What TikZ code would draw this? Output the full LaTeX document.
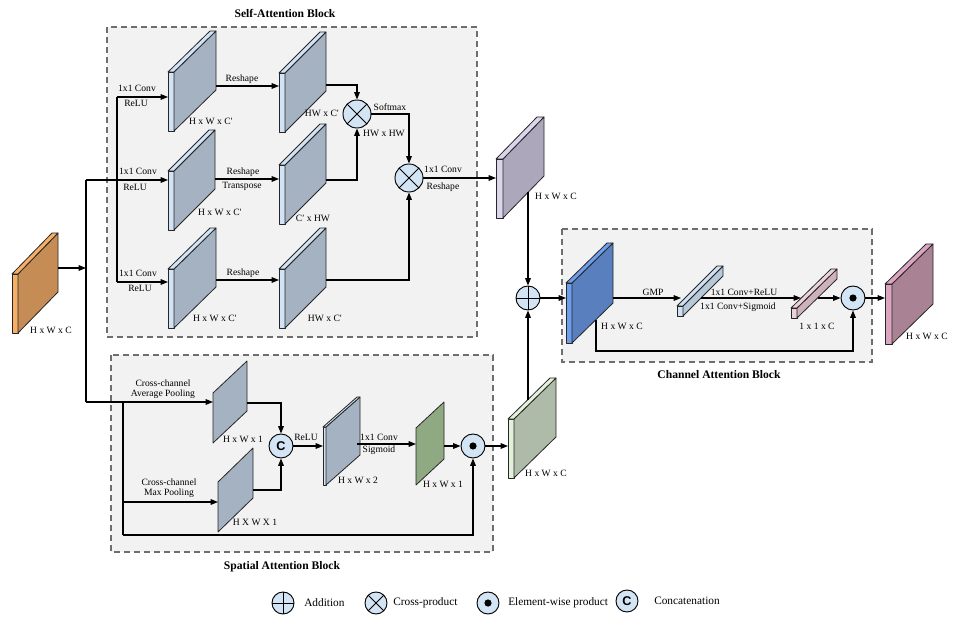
\documentclass[tikz,border=0pt]{standalone}
\usepackage{fontspec}
\setmainfont{Liberation Serif}
\newfontfamily\sansbold{Liberation Sans}
\usetikzlibrary{arrows.meta}
\definecolor{blockfill}{HTML}{F2F2F2}
\definecolor{blockline}{HTML}{6E6E6E}
\definecolor{opfill}{HTML}{D3E4F4}
\definecolor{lbfront}{HTML}{D1E3F4}
\definecolor{gbside}{HTML}{A4B2C1}
\definecolor{orfront}{HTML}{F7AE66}
\definecolor{orside}{HTML}{C68C55}
\definecolor{pufront}{HTML}{DCD6EC}
\definecolor{puside}{HTML}{ADA7BB}
\definecolor{grfront}{HTML}{E3F0DA}
\definecolor{grside}{HTML}{AEBBA8}
\definecolor{blfront}{HTML}{6D9EEB}
\definecolor{blside}{HTML}{5A7FBE}
\definecolor{pkfront}{HTML}{DBA5C2}
\definecolor{pkside}{HTML}{A98294}
\definecolor{slabgreen}{HTML}{8FA983}
\definecolor{bafront}{HTML}{CFE2F3}
\definecolor{baside}{HTML}{B7C9D8}
\definecolor{bbfront}{HTML}{EBD3DC}
\definecolor{bbside}{HTML}{CDB1BB}

\newcommand\mycube[8]{%
  \filldraw[cubeline, fill=#7] (#1,#2) rectangle ++(#3,#4);
  \filldraw[cubeline, fill=#8] (#1+#3,#2) -- ++(#5,-#6) -- ++(0,#4) -- ++(-#5,#6) -- cycle;
  \filldraw[cubeline, fill=#7] (#1,#2) -- ++(#5,-#6) -- ++(#3,0) -- ++(-#5,#6) -- cycle;
}
\newcommand\myslab[6]{%
  \filldraw[cubeline, fill=#6] (#1,#2) -- ++(#4,-#5) -- ++(0,#3) -- ++(-#4,#5) -- cycle;
}

\tikzset{
  cubeline/.style={draw=black!85, line width=0.6pt, line join=round},
  conn/.style={line width=0.85pt, -{Triangle[length=5.5pt,width=4.2pt]}},
  plainconn/.style={line width=0.85pt},
  lbl/.style={font=\fontsize{7.2}{8}\selectfont, inner sep=0.5pt},
  lgd/.style={font=\fontsize{8.5}{10}\selectfont, inner sep=0pt, anchor=west},
  ttl/.style={font=\fontsize{8.7}{10}\selectfont\bfseries, inner sep=0pt},
  block/.style={fill=blockfill, draw=blockline, line width=0.8pt, dash pattern=on 4.5pt off 3pt},
  opbase/.style={circle, draw, line width=0.7pt, fill=opfill, inner sep=0pt, minimum size=18pt},
  addop/.style={opbase, path picture={\draw[black, line width=0.7pt] (path picture bounding box.north) -- (path picture bounding box.south) (path picture bounding box.west) -- (path picture bounding box.east);}},
  crossop/.style={opbase, path picture={\draw[black, line width=0.7pt] (path picture bounding box.north west) -- (path picture bounding box.south east) (path picture bounding box.south west) -- (path picture bounding box.north east);}},
  dotop/.style={opbase, path picture={\fill[black] (path picture bounding box.center) circle[radius=2.7pt];}},
  catop/.style={opbase, font=\sansbold\fontsize{9.5}{10}\selectfont\bfseries},
}

\begin{document}
\begin{tikzpicture}[x=0.75pt, y=-0.75pt]
\useasboundingbox (0,0) rectangle (972,624);

% ---------- blocks ----------
\draw[block] (107,27) rectangle (477,337);
\draw[block] (111,355) rectangle (493,552);
\draw[block] (562,229) rectangle (872,362);
\node[ttl] (tsa) at (285,13) {Self-Attention Block};
\node[ttl] (tsp) at (282,567) {Spatial Attention Block};
\node[ttl] (tca) at (719,375) {Channel Attention Block};

% ---------- cubes ----------
\mycube{12}{274}{6}{59}{40}{41}{orfront}{orside}
\mycube{168}{72}{6}{59}{42}{41}{lbfront}{gbside}
\mycube{279}{73}{6}{59}{41}{41}{lbfront}{gbside}
\mycube{168}{171}{6}{59}{41}{41}{lbfront}{gbside}
\mycube{279}{165}{6}{59}{41}{41}{lbfront}{gbside}
\mycube{168}{269}{6}{59}{42}{41}{lbfront}{gbside}
\mycube{279}{269}{6}{59}{41}{41}{lbfront}{gbside}
\mycube{496}{159}{7}{59}{41}{42}{pufront}{puside}
\mycube{508}{419}{6}{59}{42}{41}{grfront}{grside}
\mycube{566}{283}{6}{60}{41}{40}{blfront}{blside}
\mycube{677}{306}{6}{10}{40}{40}{bafront}{baside}
\mycube{791}{308}{6}{10}{40}{39}{bbfront}{bbside}
\mycube{885}{284}{7}{60}{41}{40}{pkfront}{pkside}
\myslab{213}{393}{50}{34}{32}{gbside}
\myslab{218}{482}{50}{35}{34}{gbside}
\mycube{323}{427}{3}{58}{34}{30}{lbfront}{gbside}
\myslab{416}{428}{57}{28}{26}{slabgreen}

% ---------- operator nodes ----------
\node[crossop, minimum size=21pt] (X1) at (357,114) {};
\node[crossop, minimum size=21pt] (X2) at (409,178) {};
\node[addop] (ADD) at (528,298) {};
\node[dotop] (EW1) at (473,446) {};
\node[dotop] (EW2) at (853,298) {};
\node[catop] (CAT) at (281,446) {C};

% ---------- coordinates ----------
\coordinate (inA) at (58,268);
\coordinate (spl) at (86,268);
\coordinate (vtop) at (86,180);
\coordinate (vbot) at (86,402);
\coordinate (bt) at (117,97);
\coordinate (bb) at (117,282);
\coordinate (c1in) at (168,97);
\coordinate (c3in) at (168,180);
\coordinate (c5in) at (168,282);
\coordinate (c1out) at (216,86);
\coordinate (c2in) at (279,86);
\coordinate (c3out) at (215,179);
\coordinate (c4in) at (279,179);
\coordinate (c5out) at (216,280);
\coordinate (c6in) at (279,280);
\coordinate (c2out) at (326,85);
\coordinate (c4out) at (326,180);
\coordinate (c6out) at (326,280);
\coordinate (puin) at (496,178);
\coordinate (puout) at (528,192);
\coordinate (grout) at (528,400);
\coordinate (blin) at (566,298);
\coordinate (blout) at (613,298);
\coordinate (bain) at (681,298);
\coordinate (baout) at (701,298);
\coordinate (bbin) at (801,298);
\coordinate (bbout) at (818,298);
\coordinate (pkin) at (885,298);
\coordinate (blbot) at (596,320);
\coordinate (cbc) at (596,351);
\coordinate (avgin) at (213,402);
\coordinate (sbt) at (123,402);
\coordinate (sbm) at (123,502);
\coordinate (sbb) at (123,535);
\coordinate (maxin) at (218,502);
\coordinate (avgout) at (247,403);
\coordinate (maxout) at (253,490);
\coordinate (s2in) at (323,446);
\coordinate (s2out) at (357,444);
\coordinate (gsin) at (416,444);
\coordinate (gsout) at (444,446);
\coordinate (grin) at (508,446);

% ---------- connectors ----------
\draw[conn] (inA) -- (spl);
\draw[plainconn] (vtop) -- (vbot);
\draw[conn] (vtop) -- (c3in);
\draw[plainconn] (bt) -- (bb);
\draw[conn] (bt) -- (c1in);
\draw[conn] (bb) -- (c5in);
\draw[conn] (c1out) -- (c2in);
\draw[conn] (c3out) -- (c4in);
\draw[conn] (c5out) -- (c6in);
\draw[conn] (c2out) -| (X1.north);
\draw[conn] (c4out) -| (X1.south);
\draw[conn] (c6out) -| (X2.south);
\draw[conn] (X1.east) -| (X2.north);
\draw[conn] (X2.east) -- (puin);
\draw[conn] (puout) -- (ADD.north);
\draw[conn] (grout) -- (ADD.south);
\draw[conn] (ADD.east) -- (blin);
\draw[conn] (blout) -- (bain);
\draw[conn] (baout) -- (bbin);
\draw[conn] (bbout) -- (EW2.west);
\draw[conn] (EW2.east) -- (pkin);
\draw[conn] (blbot) -- (cbc) -| (EW2.south);
\draw[conn] (vbot) -- (avgin);
\draw[plainconn] (sbt) -- (sbb);
\draw[conn] (sbm) -- (maxin);
\draw[conn] (sbb) -| (EW1.south);
\draw[conn] (avgout) -| (CAT.north);
\draw[conn] (maxout) -| (CAT.south);
\draw[conn] (CAT.east) -- (s2in);
\draw[conn] (s2out) -- (gsin);
\draw[conn] (gsout) -- (EW1.west);
\draw[conn] (EW1.east) -- (grin);

% ---------- labels ----------
\node[lbl] (l1) at (137,88) {1x1 Conv};
\node[lbl] (l2) at (136,103) {ReLU};
\node[lbl] (l3) at (138,171) {1x1 Conv};
\node[lbl] (l4) at (135,187) {ReLU};
\node[lbl] (l5) at (138,273) {1x1 Conv};
\node[lbl] (l6) at (140,288) {ReLU};
\node[lbl] (l7) at (211,121) {H x W x C′};
\node[lbl] (l8) at (220,212) {H x W x C′};
\node[lbl] (l9) at (215,318) {H x W x C′};
\node[lbl] (l10) at (242,79) {Reshape};
\node[lbl] (l11) at (243,172) {Reshape};
\node[lbl] (l12) at (242,186) {Transpose};
\node[lbl] (l13) at (243,273) {Reshape};
\node[lbl] (l14) at (322,113) {HW x C′};
\node[lbl] (l15) at (313,218) {C′ x HW};
\node[lbl] (l16) at (325,318) {HW x C′};
\node[lbl] (l17) at (390,107) {Softmax};
\node[lbl] (l18) at (384,133) {HW x HW};
\node[lbl] (l19) at (443,169) {1x1 Conv};
\node[lbl] (l20) at (443,187) {Reshape};
\node[lbl] (l21) at (556,196) {H x W x C};
\node[lbl] (l22) at (51,330) {H x W x C};
\node[lbl] (l23) at (546,473) {H x W x C};
\node[lbl] (l24) at (653,292) {GMP};
\node[lbl] (l25) at (622,326) {H x W x C};
\node[lbl] (l26) at (744,292) {1x1 Conv+ReLU};
\node[lbl] (l27) at (738,307) {1x1 Conv+Sigmoid};
\node[lbl] (l28) at (817,326) {1 x 1 x C};
\node[lbl] (l29) at (927,336) {H x W x C};
\node[lbl] (l30) at (163,383) {Cross-channel};
\node[lbl] (l31) at (163,394) {Average Pooling};
\node[lbl] (l32) at (169,482) {Cross-channel};
\node[lbl] (l33) at (169,493) {Max Pooling};
\node[lbl] (l34) at (243,439) {H x W x 1};
\node[lbl] (l35) at (255,522) {H X W X 1};
\node[lbl] (l36) at (306,437) {ReLU};
\node[lbl] (l37) at (358,480) {H x W x 2};
\node[lbl] (l38) at (379,437) {1x1 Conv};
\node[lbl] (l39) at (379,450) {Sigmoid};
\node[lbl] (l40) at (443,484) {H x W x 1};

% ---------- legend ----------
\node[addop, minimum size=16.5pt] (g1) at (283,603) {};
\node[lgd] (g1t) at (304,603) {Addition};
\node[crossop, minimum size=16.5pt] (g2) at (376,603) {};
\node[lgd] (g2t) at (393,603) {Cross-product};
\node[dotop, minimum size=16.5pt] (g3) at (488,603) {};
\node[lgd] (g3t) at (508,603) {Element-wise product};
\node[catop, minimum size=16.5pt] (g4) at (627,601) {C};
\node[lgd] (g4t) at (654,601) {Concatenation};
\end{tikzpicture}
\end{document}
